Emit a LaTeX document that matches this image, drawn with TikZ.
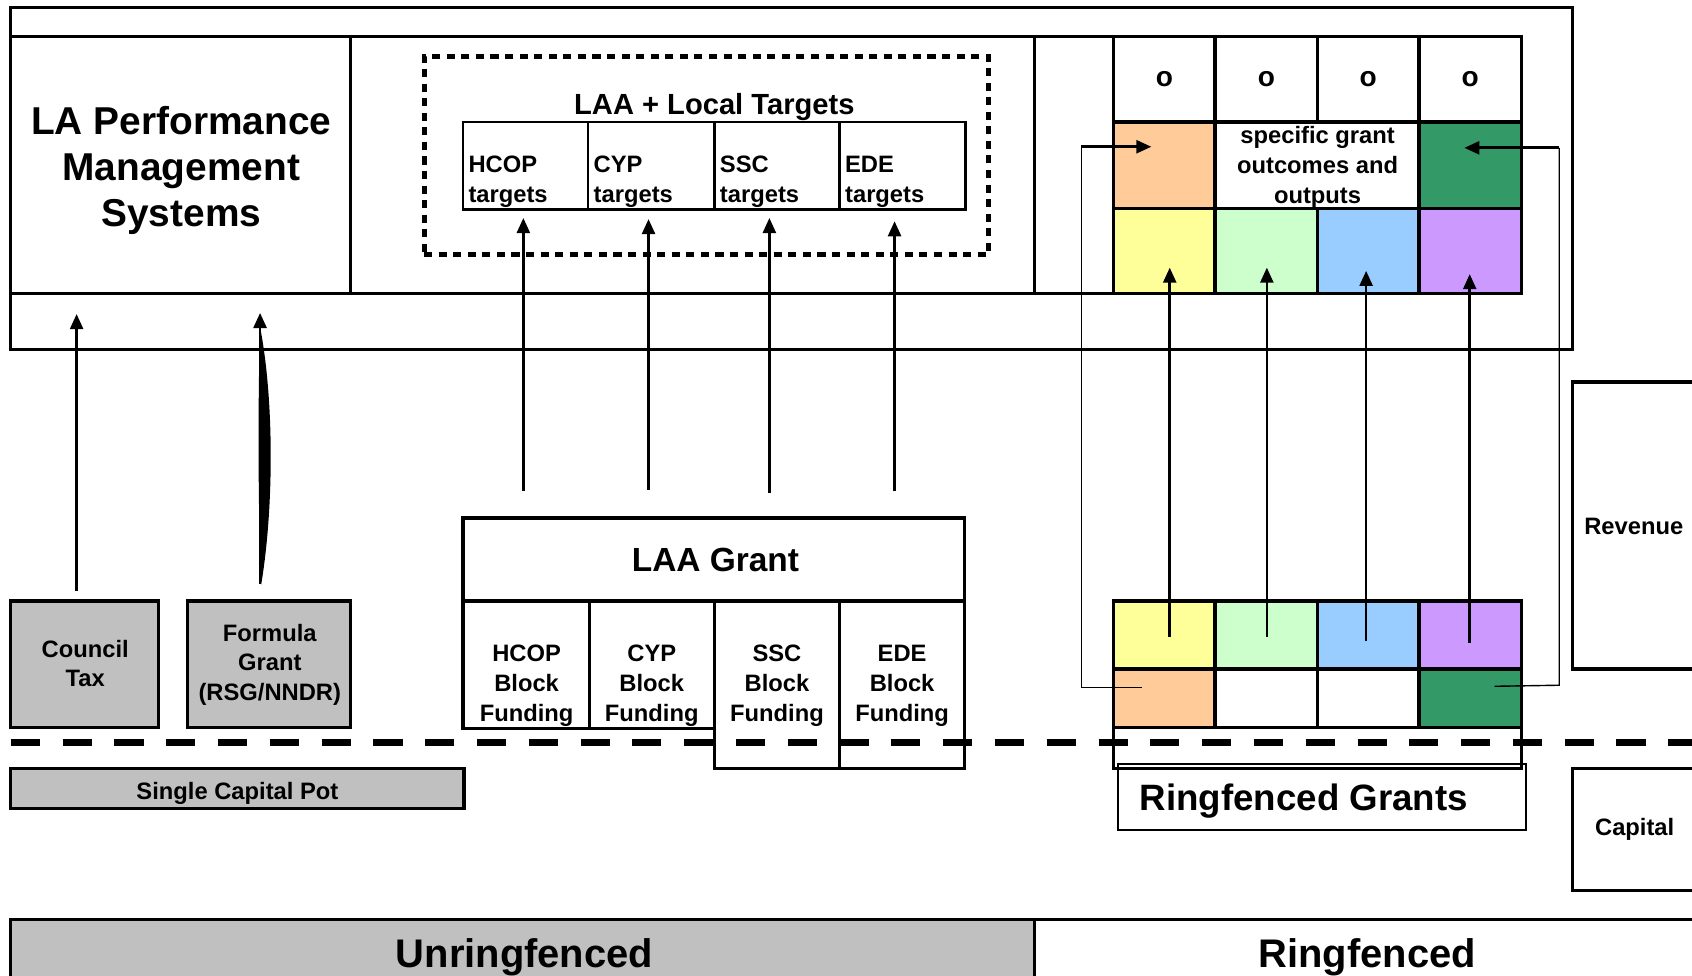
\documentclass[tikz,border=0pt]{standalone}
\usepackage{fontspec}
\setmainfont{Liberation Sans}
\usetikzlibrary{arrows.meta}
\definecolor{grayfill}{HTML}{C0C0C0}
\definecolor{peach}{HTML}{FFCC99}
\definecolor{dgreen}{HTML}{339966}
\definecolor{lyellow}{HTML}{FFFF99}
\definecolor{lgreen}{HTML}{CCFFCC}
\definecolor{lblue}{HTML}{99CCFF}
\definecolor{lpurple}{HTML}{CC99FF}
\newcommand\fsmall{\fontsize{22}{27.5}\selectfont\bfseries}
\newcommand\fo{\fontsize{26}{30}\selectfont\bfseries}
\newcommand\fla{\fontsize{36}{43}\selectfont\bfseries}
\newcommand\flaa{\fontsize{27}{32}\selectfont\bfseries}
\newcommand\fgrant{\fontsize{31}{36}\selectfont\bfseries}
\newcommand\fbig{\fontsize{34}{40}\selectfont\bfseries}
\newcommand\fband{\fontsize{37}{44}\selectfont\bfseries}
\newcommand\bx[7][]{\node[boxs,#1,minimum width={#5-#3},minimum height={#6-#4}] (#2) at ({(#3+#5)/2},{(#4+#6)/2}) {#7};}
\tikzset{
  boxs/.style={draw, line width=2.5pt, inner sep=0pt, outer sep=0pt, align=center, font=\fsmall},
  txt/.style={inner sep=0pt, align=center, font=\fsmall},
  thinl/.style={line width=1.3pt},
  arr/.style={line width=2.5pt, -{Triangle[length=14pt,width=12pt]}},
  bigdash/.style={line width=6pt, dash pattern=on 27pt off 21pt},
  dotbox/.style={line width=4.5pt, dash pattern=on 7.5pt off 6pt},
}
\begin{document}
\begin{tikzpicture}[x=1pt,y=-1pt,line join=miter]
\useasboundingbox (0,0) rectangle (1568,904);
\clip (0,0) rectangle (1568,904);
\fill[white] (0,0) rectangle (1568,904);

% ---------- top frame ----------
\bx[line width=3pt]{frame}{10}{7}{1457}{324}{}
\bx[line width=3pt]{lapms}{10}{34}{325}{272}{}
\node[txt,font=\fla] (lapmst) at (168,158) {LA Performance\\Management\\Systems};
\bx[line width=3pt]{tgtarea}{325}{34}{959}{272}{}
\bx[line width=3pt]{gapcol}{959}{34}{1032}{272}{}
\bx[dotbox]{dotted}{393}{52}{916}{236}{}
\node[txt,font=\flaa] (laalt) at (662,99) {LAA + Local Targets};

% targets
\bx{t1}{429}{113}{545}{194}{}
\bx{t2}{545}{113}{662}{194}{}
\bx{t3}{662}{113}{778}{194}{}
\bx{t4}{778}{113}{895}{194}{}
\node[txt,align=left,anchor=west] (t1t) at (434,168.5) {HCOP\\targets};
\node[txt,align=left,anchor=west] (t2t) at (550,168.5) {CYP\\targets};
\node[txt,align=left,anchor=west] (t3t) at (667,168.5) {SSC\\targets};
\node[txt,align=left,anchor=west] (t4t) at (783,168.5) {EDE\\targets};

% outcome grid (top)
\bx[line width=3pt,font=\fo]{o1}{1032}{34}{1126}{113}{o}
\bx[line width=3pt,font=\fo]{o2}{1126}{34}{1221}{113}{o}
\bx[line width=3pt,font=\fo]{o3}{1221}{34}{1315}{113}{o}
\bx[line width=3pt,font=\fo]{o4}{1315}{34}{1410}{113}{o}
\bx[line width=3pt,fill=peach]{m1}{1032}{113}{1126}{193}{}
\bx[line width=3pt]{m23}{1126}{113}{1315}{193}{}
\bx[line width=3pt,fill=dgreen]{m4}{1315}{113}{1410}{193}{}
\node[txt] (spec) at (1221,155) {specific grant\\outcomes and\\outputs};
\bx[line width=3pt,fill=lyellow]{c1}{1032}{193}{1126}{272}{}
\bx[line width=3pt,fill=lgreen]{c2}{1126}{193}{1221}{272}{}
\bx[line width=3pt,fill=lblue]{c3}{1221}{193}{1315}{272}{}
\bx[line width=3pt,fill=lpurple]{c4}{1315}{193}{1410}{272}{}

% ---------- unringfenced sources ----------
\bx[line width=3pt,fill=grayfill]{ctax}{10}{557}{147}{674}{}
\node[txt] (ctaxt) at (79,615) {Council\\Tax};
\bx[line width=3pt,fill=grayfill]{fgr}{174}{557}{325}{674}{}
\node[txt] (fgrt) at (250,616) {Formula\\Grant\\(RSG/NNDR)};
\bx[line width=3pt,fill=grayfill]{scp}{10}{712}{430}{749}{}
\node[txt] (scpt) at (220,735) {Single Capital Pot};

% LAA grant
\bx[line width=3pt]{laag}{429}{480}{894}{557}{}
\node[txt,font=\fgrant] (laagt) at (663,519) {LAA Grant};
\bx[line width=3pt]{hb}{429}{557}{546}{675}{}
\bx[line width=3pt]{cb}{546}{557}{662}{675}{}
\bx[line width=3pt]{sb}{662}{557}{778}{712}{}
\bx[line width=3pt]{eb}{778}{557}{894}{712}{}
\node[txt] (hbt) at (488,635.5) {HCOP\\Block\\Funding};
\node[txt] (cbt) at (604,635.5) {CYP\\Block\\Funding};
\node[txt] (sbt) at (720,635.5) {SSC\\Block\\Funding};
\node[txt] (ebt) at (836,635.5) {EDE\\Block\\Funding};

% ringfenced grants grid (bottom)
\bx[line width=3pt,fill=lyellow]{r1}{1032}{557}{1126}{620}{}
\bx[line width=3pt,fill=lgreen]{r2}{1126}{557}{1221}{620}{}
\bx[line width=3pt,fill=lblue]{r3}{1221}{557}{1315}{620}{}
\bx[line width=3pt,fill=lpurple]{r4}{1315}{557}{1410}{620}{}
\bx[line width=3pt,fill=peach]{s1}{1032}{620}{1126}{674}{}
\bx[line width=3pt]{s2}{1126}{620}{1221}{674}{}
\bx[line width=3pt]{s3}{1221}{620}{1315}{674}{}
\bx[line width=3pt,fill=dgreen]{s4}{1315}{620}{1410}{674}{}
\bx[line width=3pt]{sall}{1032}{674}{1410}{712}{}
\bx[line width=1.5pt]{rgb}{1036}{708}{1414}{769}{}
\node[txt,font=\fbig,anchor=west] (rgbt) at (1056,742) {Ringfenced Grants};

% revenue / capital
\bx[line width=3pt]{rev}{1457}{354}{1620}{620}{}
\node[txt,anchor=west] (revt) at (1468,488) {Revenue};
\bx[line width=3pt]{cap}{1457}{712}{1620}{825}{}
\node[txt,anchor=west] (capt) at (1478,769) {Capital};

% bottom band
\bx[line width=3pt,fill=grayfill]{unr}{10}{852}{959}{940}{}
\bx[line width=3pt]{rf}{959}{852}{1620}{940}{}
\node[txt,font=\fband] (unrt) at (486,887) {Unringfenced};
\node[txt,font=\fband] (rft) at (1267,887) {Ringfenced};

% ---------- connectors ----------
\coordinate (ctaxs) at (71,548);  \coordinate (ctaxe) at (71,291);
\draw[arr] (ctaxs) -- (ctaxe);
\coordinate (fgrs) at (241,541);  \coordinate (fgre) at (241,290);
\fill (241,303) .. controls (254,370) and (254,470) .. (242,542)
      .. controls (239,470) and (239,370) .. (241,303) -- cycle;
\draw[arr] (fgrs) -- (fgre);

\coordinate (a1s) at (485,455); \coordinate (a1e) at (485,202);
\coordinate (a2s) at (601,454); \coordinate (a2e) at (601,203);
\coordinate (a3s) at (713,457); \coordinate (a3e) at (713,202);
\coordinate (a4s) at (829,455); \coordinate (a4e) at (829,205);
\draw[arr] (a1s) -- (a1e);
\draw[arr] (a2s) -- (a2e);
\draw[arr] (a3s) -- (a3e);
\draw[arr] (a4s) -- (a4e);

\coordinate (g1s) at (1084,590); \coordinate (g1e) at (1084,248);
\coordinate (g2s) at (1174,590); \coordinate (g2e) at (1174,248);
\coordinate (g3s) at (1266,594); \coordinate (g3e) at (1266,251);
\coordinate (g4s) at (1362,596); \coordinate (g4e) at (1362,254);
\draw[arr] (g1s) -- (g1e);
\draw[arr] (g2s) -- (g2e);
\draw[arr] (g3s) -- (g3e);
\draw[arr] (g4s) -- (g4e);

\coordinate (lc1) at (1058,637); \coordinate (lc2) at (1002,637);
\coordinate (lc3) at (1002,136); \coordinate (lc4) at (1067,136);
\draw[thinl] (lc1) -- (lc2) -- (lc3);
\draw[arr] (lc3) -- (lc4);
\coordinate (rc1) at (1385,636); \coordinate (rc2) at (1445,635);
\coordinate (rc3) at (1445,137); \coordinate (rc4) at (1357,137);
\draw[thinl] (rc1) -- (rc2) -- (rc3);
\draw[arr] (rc3) -- (rc4);

% dashed revenue / capital divider
\coordinate (dl) at (10,688); \coordinate (dr) at (1568,688);
\draw[bigdash] (dl) -- (dr);
\end{tikzpicture}
\end{document}
